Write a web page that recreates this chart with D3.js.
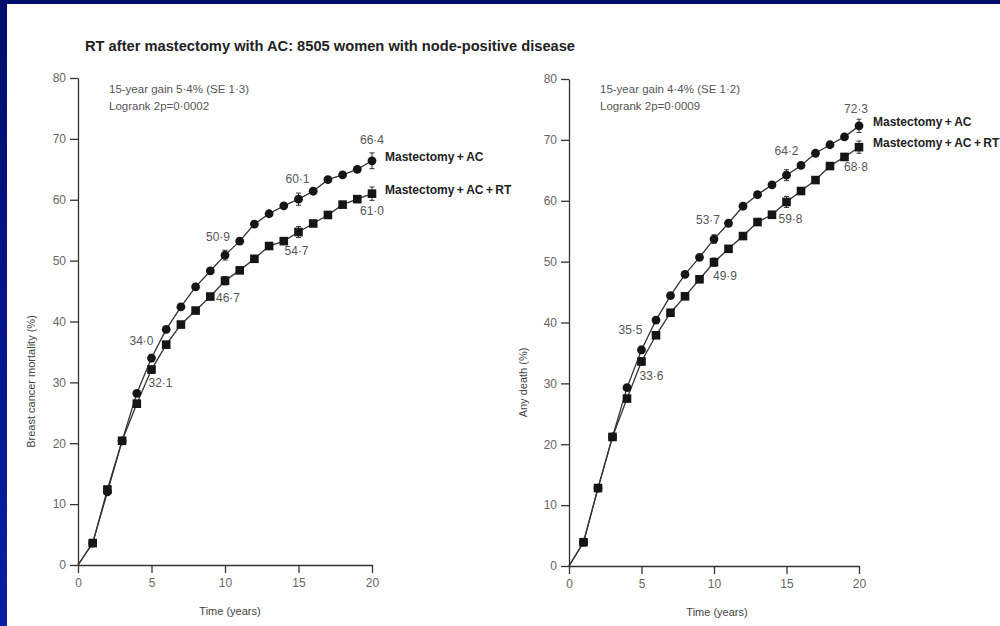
<!DOCTYPE html>
<html lang="en">
<head>
    <meta charset="UTF-8">
    <title>RT after mastectomy with AC</title>
    <script src="https://d3js.org/d3.v7.min.js"></script>
    <style>
        body { margin: 0; background: #fff; }
        text { font-family: "Liberation Sans Narrow", "Liberation Sans", Arial, sans-serif; }
    </style>
</head>
<body>
    <div id="chart"></div>

    <script>
        // ---- data ----
        var years = d3.range(0, 21);

        // Breast cancer mortality (%)
        var bcAC   = [0, 3.6, 12.0, 20.4, 28.2, 34.0, 38.7, 42.4, 45.7, 48.3, 50.9, 53.2, 56.0, 57.7, 59.0, 60.1, 61.4, 63.3, 64.1, 65.0, 66.4];
        var bcACRT = [0, 3.6, 12.4, 20.4, 26.5, 32.1, 36.2, 39.5, 41.8, 44.1, 46.7, 48.4, 50.3, 52.4, 53.2, 54.7, 56.1, 57.5, 59.2, 60.1, 61.0];

        // Any death (%)
        var adAC   = [0, 3.9, 12.8, 21.2, 29.3, 35.5, 40.4, 44.4, 47.9, 50.7, 53.7, 56.3, 59.1, 61.0, 62.6, 64.2, 65.8, 67.8, 69.2, 70.5, 72.3];
        var adACRT = [0, 3.9, 12.8, 21.2, 27.5, 33.6, 37.9, 41.6, 44.3, 47.1, 49.9, 52.1, 54.2, 56.5, 57.7, 59.8, 61.6, 63.4, 65.7, 67.2, 68.8];

        // error bars (1 SE) at the labelled years
        var seYears = [5, 10, 15, 20];
        var bcSE_AC = [0.6, 0.8, 1.0, 1.3];
        var bcSE_RT = [0.6, 0.7, 0.9, 1.1];
        var adSE_AC = [0.6, 0.7, 0.9, 1.1];
        var adSE_RT = [0.6, 0.7, 0.9, 1.0];

        var yTicks = [0, 10, 20, 30, 40, 50, 60, 70, 80];
        var xTicks = [0, 5, 10, 15, 20];

        var titleText = "RT after mastectomy with AC: 8505 women with node-positive disease";
        var seriesNames = ["Mastectomy + AC", "Mastectomy + AC + RT"];

        var panels = [
            {
                ac: bcAC, rt: bcACRT, seAC: bcSE_AC, seRT: bcSE_RT,
                yLabel: "Breast cancer mortality (%)",
                stats: ["15-year gain 5\u00b74% (SE 1\u00b73)", "Logrank 2p=0\u00b70002"],
                left: 78, right: 372, top: 78, bottom: 565,
                // label offsets for years 5,10,15,20
                acLab: [{a: "end", dx: 2, dy: -13}, {a: "end", dx: 5, dy: -14}, {a: "middle", dx: -1, dy: -16}, {a: "middle", dx: 0, dy: -17}],
                rtLab: [{a: "start", dx: -3, dy: 17}, {a: "start", dx: -9, dy: 21}, {a: "middle", dx: -2, dy: 23}, {a: "middle", dx: 0, dy: 21}],
                legendDx: 13, yLabelX: 31, timeX: 230
            },
            {
                ac: adAC, rt: adACRT, seAC: adSE_AC, seRT: adSE_RT,
                yLabel: "Any death (%)",
                stats: ["15-year gain 4\u00b74% (SE 1\u00b72)", "Logrank 2p=0\u00b70009"],
                left: 569, right: 859, top: 79, bottom: 566,
                acLab: [{a: "end", dx: 1, dy: -16}, {a: "end", dx: 6, dy: -15}, {a: "middle", dx: 0, dy: -20}, {a: "middle", dx: -3, dy: -13}],
                rtLab: [{a: "start", dx: -2, dy: 19}, {a: "start", dx: -1, dy: 18}, {a: "start", dx: -8, dy: 21}, {a: "middle", dx: -3, dy: 24}],
                legendDx: 14, yLabelX: 523, timeX: 717
            }
        ];

        function fmt(v) {
            return v.toFixed(1).replace(".", "\u00b7");
        }

        var W = 1000, H = 626;

        var svg = d3.select("#chart")
            .append("svg")
            .attr("width", W)
            .attr("height", H);

        // blue slide frame
        var grad = svg.append("defs").append("linearGradient")
            .attr("id", "frameGrad")
            .attr("x1", 0).attr("y1", 0).attr("x2", 0).attr("y2", 1);
        grad.append("stop").attr("offset", "0%").attr("stop-color", "#000d6b");
        grad.append("stop").attr("offset", "100%").attr("stop-color", "#0a1ea3");

        svg.append("rect").attr("width", W).attr("height", H).attr("fill", "#fff");
        svg.append("rect").attr("x", 0).attr("y", 0).attr("width", W).attr("height", 4).attr("fill", "#000d6b");
        svg.append("rect").attr("x", 0).attr("y", 0).attr("width", 7).attr("height", H).attr("fill", "url(#frameGrad)");

        // title
        svg.append("text")
            .attr("x", 85)
            .attr("y", 51)
            .attr("font-size", 15)
            .attr("font-weight", "bold")
            .attr("fill", "#222")
            .attr("textLength", 490)
            .attr("lengthAdjust", "spacingAndGlyphs")
            .text(titleText);

        panels.forEach(function(p) {

            var x = d3.scaleLinear().domain([0, 20]).range([p.left, p.right]);
            var y = d3.scaleLinear().domain([0, 80]).range([p.bottom, p.top]);

            // Y axis
            var gy = svg.append("g")
                .attr("transform", "translate(" + p.left + ",0)")
                .call(d3.axisLeft(y).tickValues(yTicks).tickSize(8).tickSizeOuter(0).tickPadding(4));

            // X axis
            var gx = svg.append("g")
                .attr("transform", "translate(0," + p.bottom + ")")
                .call(d3.axisBottom(x).tickValues(xTicks).tickSize(8).tickSizeOuter(0).tickPadding(5));

            [gx, gy].forEach(function(g) {
                g.select(".domain").attr("stroke", "#333").attr("stroke-width", 1.3);
                g.selectAll(".tick line").attr("stroke", "#333").attr("stroke-width", 1.3);
                g.selectAll(".tick text")
                    .attr("fill", "#666")
                    .attr("font-size", 12)
                    .style("font-family", '"Liberation Sans Narrow", "Liberation Sans", Arial, sans-serif');
            });

            // axis titles
            svg.append("text")
                .attr("transform", "translate(" + p.yLabelX + "," + ((p.top + p.bottom) / 2 + 60) + ")rotate(-90)")
                .attr("text-anchor", "middle")
                .attr("dy", "0.35em")
                .attr("font-size", 11)
                .attr("fill", "#444")
                .text(p.yLabel);

            svg.append("text")
                .attr("x", p.timeX)
                .attr("y", p.bottom + 50)
                .attr("text-anchor", "middle")
                .attr("font-size", 11)
                .attr("fill", "#444")
                .text("Time (years)");

            // stats text
            svg.selectAll(null)
                .data(p.stats)
                .enter()
                .append("text")
                .attr("x", x(0) + 31)
                .attr("y", function(d, i) { return 93 + i * 16.5; })
                .attr("font-size", 11.5)
                .attr("fill", "#555")
                .text(function(d) { return d; });

            var line = d3.line()
                .x(function(d, i) { return x(years[i]); })
                .y(function(d) { return y(d); });

            // lines
            [p.rt, p.ac].forEach(function(s) {
                svg.append("path")
                    .datum(s)
                    .attr("fill", "none")
                    .attr("stroke", "#333")
                    .attr("stroke-width", 1.3)
                    .attr("d", line);
            });

            // error bars
            function errorBars(s, se) {
                seYears.forEach(function(yr, i) {
                    var cx = x(yr), lo = y(s[yr] - se[i]), hi = y(s[yr] + se[i]);
                    svg.append("line").attr("x1", cx).attr("x2", cx).attr("y1", lo).attr("y2", hi)
                        .attr("stroke", "#333").attr("stroke-width", 1);
                    [lo, hi].forEach(function(v) {
                        svg.append("line").attr("x1", cx - 2.5).attr("x2", cx + 2.5).attr("y1", v).attr("y2", v)
                            .attr("stroke", "#333").attr("stroke-width", 1);
                    });
                });
            }
            errorBars(p.rt, p.seRT);
            errorBars(p.ac, p.seAC);

            // squares (AC + RT)
            svg.selectAll(null)
                .data(p.rt.slice(1))
                .enter()
                .append("rect")
                .attr("x", function(d, i) { return x(years[i + 1]) - 4.3; })
                .attr("y", function(d) { return y(d) - 4.3; })
                .attr("width", 8.6)
                .attr("height", 8.6)
                .attr("fill", "#151515");

            // circles (AC)
            svg.selectAll(null)
                .data(p.ac.slice(1))
                .enter()
                .append("circle")
                .attr("cx", function(d, i) { return x(years[i + 1]); })
                .attr("cy", function(d) { return y(d); })
                .attr("r", 4.4)
                .attr("fill", "#151515");

            // value labels
            seYears.forEach(function(yr, i) {
                var la = p.acLab[i], lr = p.rtLab[i];
                svg.append("text")
                    .attr("x", x(yr) + la.dx)
                    .attr("y", y(p.ac[yr]) + la.dy)
                    .attr("text-anchor", la.a)
                    .attr("font-size", 12)
                    .attr("fill", "#555")
                    .text(fmt(p.ac[yr]));
                svg.append("text")
                    .attr("x", x(yr) + lr.dx)
                    .attr("y", y(p.rt[yr]) + lr.dy)
                    .attr("text-anchor", lr.a)
                    .attr("font-size", 12)
                    .attr("fill", "#555")
                    .text(fmt(p.rt[yr]));
            });

            // series names at line ends
            [p.ac, p.rt].forEach(function(s, i) {
                svg.append("text")
                    .attr("x", x(20) + p.legendDx)
                    .attr("y", y(s[20]) + (i == 0 ? 0 : 0))
                    .attr("font-size", 12)
                    .attr("font-weight", "bold")
                    .attr("fill", "#222")
                    .text(seriesNames[i].replace(/ \+ /g, "\u2009+\u2009"));
            });
        });
    </script>
</body>
</html>
